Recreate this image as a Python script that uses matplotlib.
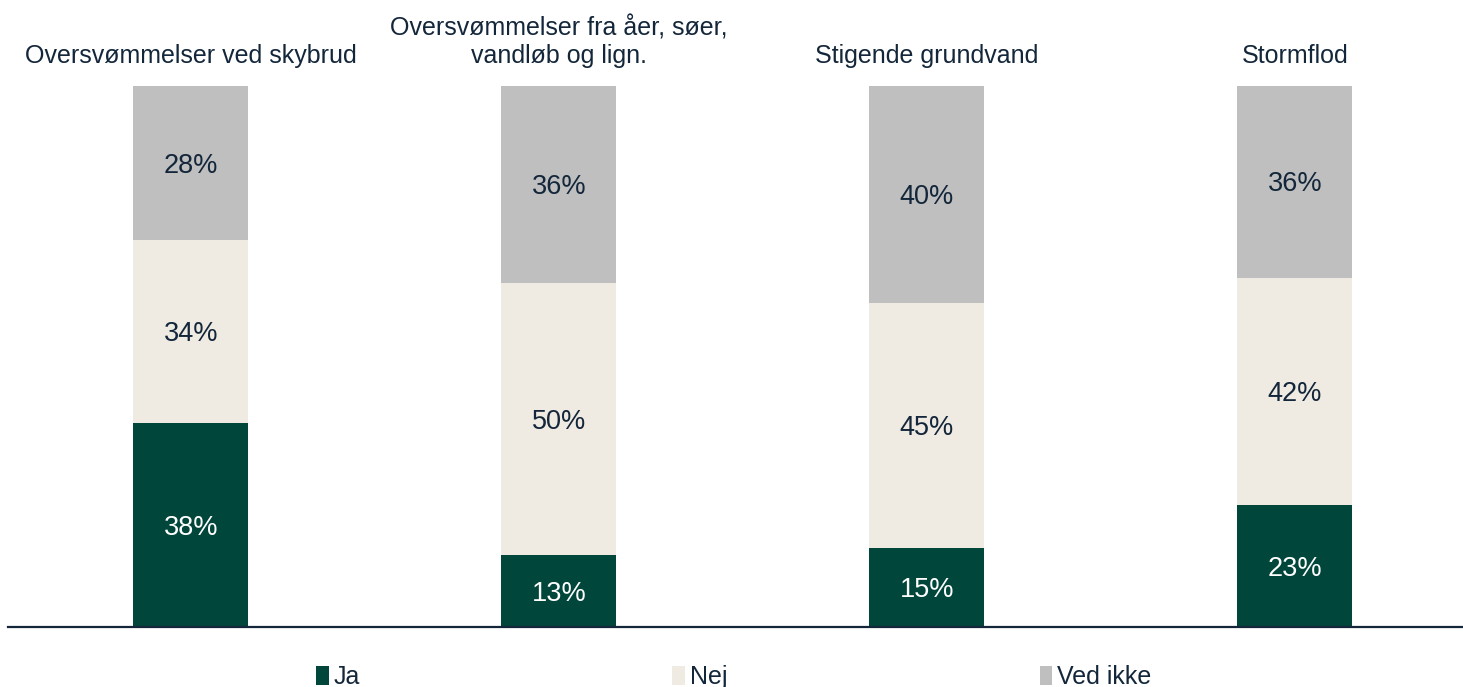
import numpy as np
import matplotlib.pyplot as plt
from matplotlib.patches import Patch

plt.rcParams['font.family'] = ['Liberation Sans', 'DejaVu Sans']

# Data
categories = ['Oversvømmelser ved skybrud',
              'Oversvømmelser fra åer, søer,\nvandløb og lign.',
              'Stigende grundvand',
              'Stormflod']
ja = [37.7, 13.3, 14.6, 22.6]
nej = [33.8, 50.3, 45.3, 42.0]
ved_ikke = [28.5, 36.4, 40.1, 35.5]
series_names = ['Ja', 'Nej', 'Ved ikke']

# Style
COLORS = ['#00463A', '#EFEAE2', '#BFBFBF']
TEXT_COLORS = ['white', '#13263A', '#13263A']
NAVY = '#13263A'
FS_TITLE = 18
FS_LABEL = 19.5
FS_LEG = 18

fig = plt.figure(figsize=(14.63, 6.87), dpi=100)
ax = fig.add_axes([8 / 1463, 60 / 687, 1 - 8 / 1463, 541 / 687])

x = np.arange(len(categories))
width = 0.3125
bottom = np.zeros(len(categories))
handles = []
for vals, color, tcol, name in zip([ja, nej, ved_ikke], COLORS, TEXT_COLORS, series_names):
    vals = np.array(vals)
    ax.bar(x, vals, width, bottom=bottom, color=color, label=name)
    for xi, b, v in zip(x, bottom, vals):
        ax.annotate(f'{v:.0f}%', (xi, b + v / 2), xytext=(0, -2),
                    textcoords='offset points', ha='center', va='center',
                    color=tcol, fontsize=FS_LABEL)
    bottom += vals
    handles.append(Patch(facecolor=color, label=name))

# category titles above bars
for xi, cat in zip(x, categories):
    ax.annotate(cat, (xi, 100), xytext=(0, 13), textcoords='offset points',
                ha='center', va='bottom', fontsize=FS_TITLE, color=NAVY,
                linespacing=1.2, annotation_clip=False)

ax.set_xlim(-0.497, 3.457)
ax.set_ylim(0, 100)
for side in ['top', 'right', 'left']:
    ax.spines[side].set_visible(False)
ax.spines['bottom'].set_color(NAVY)
ax.spines['bottom'].set_linewidth(1.6)
ax.set_xticks([])
ax.set_yticks([])

leg = fig.legend(handles=handles, loc='lower left', bbox_to_anchor=(306 / 1463, -0.018),
                 ncol=3, frameon=False, fontsize=FS_LEG, handlelength=0.5,
                 handleheight=0.75, handletextpad=0.2, columnspacing=12.5,
                 borderaxespad=0)
for t in leg.get_texts():
    t.set_color(NAVY)

fig.savefig('out.png', dpi=100)
